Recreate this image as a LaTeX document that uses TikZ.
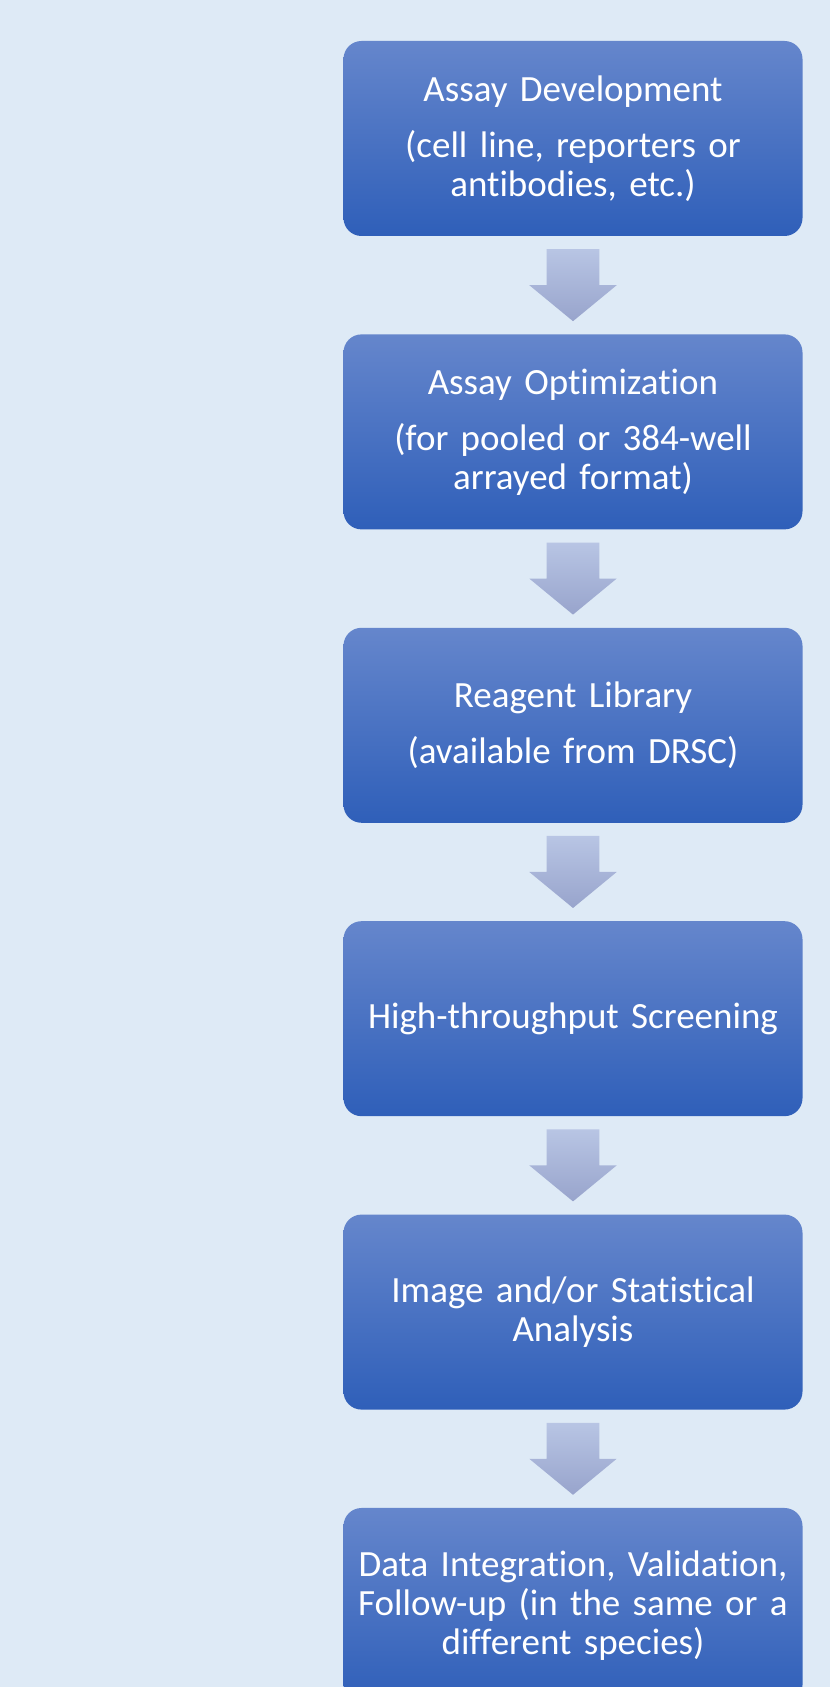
\documentclass[tikz,border=0pt]{standalone}
\usepackage{fontspec}
\setmainfont[Ligatures={NoCommon,NoContextual,NoRare}, Contextuals=NoAlternate]{Carlito}
\usetikzlibrary{positioning,calc}

\definecolor{pagebg}{RGB}{222,234,246}
\definecolor{boxtop}{RGB}{101,134,204}
\definecolor{boxbot}{RGB}{47,95,185}
\definecolor{arrtop}{RGB}{184,197,228}
\definecolor{arrbot}{RGB}{152,164,204}

\begin{document}
\begin{tikzpicture}[x=1pt, y=1pt,
      node distance=98pt,
      stage/.style={rounded corners=18pt, top color=boxtop, bottom color=boxbot,
                    text=white, align=center, inner sep=0pt,
                    minimum width=459pt, minimum height=195pt, text width=450pt,
                    font=\fontsize{37}{39}\selectfont},
      flow/.style={top color=arrtop, bottom color=arrbot}]
    \fill[pagebg] (0,0) rectangle (830,1687);
    \useasboundingbox (0,0) rectangle (830,1687);
    \node[stage] (dev) at (573,1548.5) {Assay Development\\[17pt](cell line, reporters or\\antibodies, etc.)};
    \node[stage, below=of dev] (opt) {Assay Optimization\\[17pt](for pooled or 384-well\\arrayed format)};
    \node[stage, below=of opt] (lib) {Reagent Library\\[17pt](available from DRSC)};
    \node[stage, below=of lib] (screen) {High-throughput Screening};
    \node[stage, below=of screen] (anal) {Image and/or Statistical\\Analysis};
    \node[stage, below=of anal] (integ) {Data Integration, Validation,\\Follow-up (in the same or a\\different species)};
    \foreach \a/\b in {dev/opt, opt/lib, lib/screen, screen/anal, anal/integ}
      \shade[flow] ([shift={(-26.3,-13)}]\a.south) -- ++(52.6,0) -- ++(0,-36) -- ++(17.4,0)
        -- ([yshift=13pt]\b.north) -- ++(-43.7,36) -- ++(17.4,0) -- cycle;
  \end{tikzpicture}
\end{document}
